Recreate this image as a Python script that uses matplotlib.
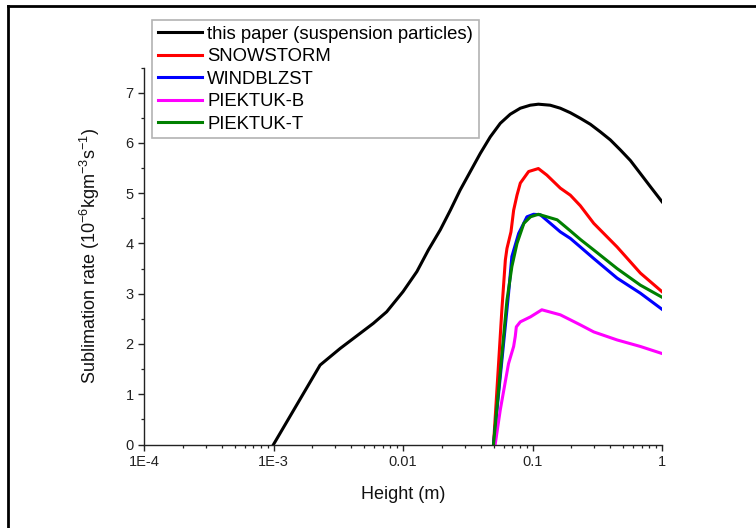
import matplotlib
matplotlib.use("Agg")
import matplotlib.pyplot as plt
from matplotlib.ticker import FixedLocator, FixedFormatter, LogLocator, NullFormatter, MultipleLocator
from matplotlib.lines import Line2D

plt.rcParams['font.family'] = ['Liberation Sans', 'DejaVu Sans']
plt.rcParams['mathtext.fontset'] = 'custom'
plt.rcParams['mathtext.rm'] = 'Liberation Sans'
plt.rcParams['mathtext.it'] = 'Liberation Sans'
plt.rcParams['mathtext.default'] = 'regular'

# ---- data ----
paper_x = [1.0e-3, 2.29e-3, 3.27e-3, 4.66e-3, 5.9e-3, 7.48e-3, 0.01, 0.0128, 0.0157,
           0.0194, 0.0232, 0.0276, 0.0331, 0.0395, 0.0472, 0.0564, 0.0673, 0.0805,
           0.0961, 0.111, 0.137, 0.164, 0.196, 0.234, 0.280, 0.334, 0.399, 0.477,
           0.570, 0.681, 0.813, 1.0]
paper_y = [0.0, 1.58, 1.91, 2.21, 2.41, 2.64, 3.04, 3.44, 3.87,
           4.27, 4.66, 5.06, 5.43, 5.79, 6.12, 6.39, 6.57, 6.69,
           6.75, 6.77, 6.75, 6.69, 6.60, 6.49, 6.37, 6.22, 6.06, 5.86,
           5.65, 5.39, 5.13, 4.83]

snow_x = [0.05, 0.0547, 0.058, 0.0617, 0.0635, 0.0682, 0.0715, 0.0759, 0.0805, 0.0933,
          0.111, 0.129, 0.164, 0.196, 0.234, 0.297, 0.45, 0.681, 1.0]
snow_y = [0.0, 1.61, 2.68, 3.67, 3.90, 4.23, 4.66, 4.96, 5.20, 5.43,
          5.49, 5.36, 5.10, 4.96, 4.75, 4.40, 3.93, 3.41, 3.04]

wind_x = [0.05, 0.0653, 0.0693, 0.0782, 0.0906, 0.102, 0.115, 0.164, 0.196, 0.234,
          0.297, 0.45, 0.681, 1.0]
wind_y = [0.0, 3.0, 3.74, 4.20, 4.53, 4.58, 4.57, 4.23, 4.10, 3.93,
          3.70, 3.31, 3.01, 2.69]

pkb_x = [0.0515, 0.0564, 0.0653, 0.0715, 0.0736, 0.075, 0.0805, 0.0966, 0.118, 0.164,
         0.196, 0.234, 0.297, 0.45, 0.681, 1.0]
pkb_y = [0.0, 0.69, 1.61, 1.95, 2.15, 2.34, 2.44, 2.54, 2.68, 2.58,
         2.48, 2.38, 2.24, 2.08, 1.95, 1.81]

pkt_x = [0.05, 0.0635, 0.0693, 0.0759, 0.0858, 0.0966, 0.111, 0.155, 0.196, 0.234,
         0.297, 0.45, 0.681, 1.0]
pkt_y = [0.0, 2.87, 3.54, 4.0, 4.40, 4.53, 4.58, 4.47, 4.25, 4.08,
         3.87, 3.50, 3.17, 2.93]

labels = ["this paper (suspension particles)", "SNOWSTORM", "WINDBLZST", "PIEKTUK-B", "PIEKTUK-T"]
colors = ["#000000", "#ff0000", "#0000ff", "#ff00ff", "#008000"]

xtick_vals = [1e-4, 1e-3, 1e-2, 1e-1, 1]
xtick_labels = ["1E-4", "1E-3", "0.01", "0.1", "1"]
ytick_vals = [0, 1, 2, 3, 4, 5, 6, 7]

# ---- figure ----
fig = plt.figure(figsize=(7.56, 5.28), dpi=100)
ax = fig.add_axes([144/756, 83.5/528, 518/756, 377/528])

series = [(paper_x, paper_y), (snow_x, snow_y), (wind_x, wind_y), (pkb_x, pkb_y), (pkt_x, pkt_y)]
handles = []
for (xs, ys), lab, c in zip(series, labels, colors):
    h, = ax.plot(xs, ys, color=c, lw=2.2, label=lab, solid_joinstyle='round')
    handles.append(h)

ax.set_xscale('log')
ax.set_xlim(1e-4, 1)
ax.set_ylim(0, 7.5)
ax.xaxis.set_major_locator(FixedLocator(xtick_vals))
ax.xaxis.set_major_formatter(FixedFormatter(xtick_labels))
ax.xaxis.set_minor_locator(LogLocator(base=10, subs=range(2, 10), numticks=20))
ax.xaxis.set_minor_formatter(NullFormatter())
ax.set_yticks(ytick_vals)
ax.yaxis.set_minor_locator(MultipleLocator(0.5))

for s in ['top', 'right']:
    ax.spines[s].set_visible(False)
for s in ['left', 'bottom']:
    ax.spines[s].set_linewidth(1.0)
    ax.spines[s].set_color('#222222')

ax.tick_params(which='major', direction='out', length=4.5, width=1.0, labelsize=10.5,
               colors='#222222', labelcolor='#222222', pad=3)
ax.tick_params(which='minor', direction='out', length=2.5, width=0.9, colors='#222222')

ax.set_xlabel("Height (m)", fontsize=13, color='#111111', labelpad=12)
ax.set_ylabel("Sublimation rate (10$^{-6}$kgm$^{-3}$s$^{-1}$)", fontsize=13, color='#111111', labelpad=17)

leg = fig.legend(handles=handles, labels=labels, loc='upper left',
                 bbox_to_anchor=(152/756, 1 - 20/528), bbox_transform=fig.transFigure,
                 fontsize=13.3, frameon=True, fancybox=False, edgecolor='#a0a0a0',
                 handlelength=2.4, handletextpad=0.3, borderpad=0.3, labelspacing=0.3,
                 borderaxespad=0)
leg.get_frame().set_linewidth(1.2)

# outer frame lines (top and left only)
fig.add_artist(Line2D([8/756, 1], [1 - 5.5/528, 1 - 5.5/528], transform=fig.transFigure,
                      color='black', lw=2.0))
fig.add_artist(Line2D([8/756, 8/756], [0, 1 - 5.5/528], transform=fig.transFigure,
                      color='black', lw=2.0))

fig.savefig("out.png", dpi=100, facecolor='white')
